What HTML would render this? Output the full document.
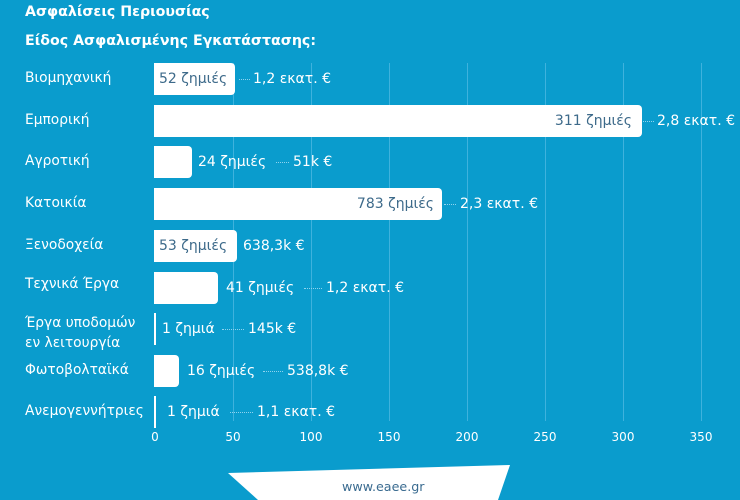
<!DOCTYPE html>
<html><head><meta charset="utf-8"><style>
body{margin:0;width:740px;height:500px;background:#0a9ccd;overflow:hidden;position:relative;font-family:"DejaVu Sans","Liberation Sans",sans-serif;color:#fff}
.a{position:absolute;white-space:nowrap}
.t{font-weight:bold;font-size:14.2px}
.c{font-size:13.8px;left:25px}
.g{position:absolute;top:63px;height:358px;width:1px;background:#3fb2dd}
.bar{position:absolute;height:32px;background:#fff;border-radius:0 4px 4px 0}
.l{font-size:14px;line-height:16px}
.in{color:#3d6a8a}
.d{position:absolute;height:0;border-top:1px dotted #8fd3ee}
.x{font-size:12px;top:430px;transform:translateX(-50%)}
</style></head><body>
<div class="a t" style="left:25px;top:4px">Ασφαλίσεις Περιουσίας</div>
<div class="a t" style="left:25px;top:33px">Είδος Ασφαλισμένης Εγκατάστασης:</div>

<div class="g" style="left:233px"></div><div class="g" style="left:311px"></div><div class="g" style="left:389px"></div><div class="g" style="left:467px"></div><div class="g" style="left:545px"></div><div class="g" style="left:623px"></div><div class="g" style="left:701px"></div>

<div class="a x" style="left:155px">0</div><div class="a x" style="left:233px">50</div><div class="a x" style="left:311px">100</div><div class="a x" style="left:389px">150</div><div class="a x" style="left:467px">200</div><div class="a x" style="left:545px">250</div><div class="a x" style="left:623px">300</div><div class="a x" style="left:701px">350</div>

<div class="a c" style="top:70px">Βιομηχανική</div>
<div class="a c" style="top:112px">Εμπορική</div>
<div class="a c" style="top:153px">Αγροτική</div>
<div class="a c" style="top:195px">Κατοικία</div>
<div class="a c" style="top:237px">Ξενοδοχεία</div>
<div class="a c" style="top:276px">Τεχνικά Έργα</div>
<div class="a c" style="top:313px;line-height:20px">Έργα υποδομών<br>εν λειτουργία</div>
<div class="a c" style="top:362px">Φωτοβολταϊκά</div>
<div class="a c" style="top:403px">Ανεμογεννήτριες</div>

<div class="bar" style="left:154px;width:81px;top:63px"></div>
<div class="bar" style="left:154px;width:488px;top:105px"></div>
<div class="bar" style="left:154px;width:38px;top:146px"></div>
<div class="bar" style="left:154px;width:288px;top:188px"></div>
<div class="bar" style="left:154px;width:83px;top:230px"></div>
<div class="bar" style="left:154px;width:64px;top:272px"></div>
<div class="bar" style="left:154px;width:2px;top:313px;border-radius:0"></div>
<div class="bar" style="left:154px;width:25px;top:355px"></div>
<div class="bar" style="left:154px;width:2px;top:396px;border-radius:0"></div>

<div class="a l in" style="left:159px;top:71px">52 ζημιές</div><div class="d" style="left:239px;width:11px;top:79px"></div><div class="a l" style="left:253px;top:71px">1,2 εκατ. €</div>
<div class="a l in" style="right:108px;top:113px">311 ζημιές</div><div class="d" style="left:643px;width:11px;top:121px"></div><div class="a l" style="left:657px;top:113px">2,8 εκατ. €</div>
<div class="a l" style="left:198px;top:154px">24 ζημιές</div><div class="d" style="left:276px;width:13px;top:162px"></div><div class="a l" style="left:293px;top:154px">51k €</div>
<div class="a l in" style="right:306px;top:196px">783 ζημιές</div><div class="d" style="left:444px;width:12px;top:204px"></div><div class="a l" style="left:460px;top:196px">2,3 εκατ. €</div>
<div class="a l in" style="left:159px;top:238px">53 ζημιές</div><div class="a l" style="left:243px;top:238px">638,3k €</div>
<div class="a l" style="left:226px;top:280px">41 ζημιές</div><div class="d" style="left:304px;width:18px;top:288px"></div><div class="a l" style="left:326px;top:280px">1,2 εκατ. €</div>
<div class="a l" style="left:162px;top:321px">1 ζημιά</div><div class="d" style="left:222px;width:22px;top:329px"></div><div class="a l" style="left:248px;top:321px">145k €</div>
<div class="a l" style="left:187px;top:363px">16 ζημιές</div><div class="d" style="left:263px;width:20px;top:371px"></div><div class="a l" style="left:287px;top:363px">538,8k €</div>
<div class="a l" style="left:167px;top:404px">1 ζημιά</div><div class="d" style="left:230px;width:23px;top:412px"></div><div class="a l" style="left:257px;top:404px">1,1 εκατ. €</div>

<svg class="a" style="left:0;top:0" width="740" height="500"><polygon points="228,473 510,465 498,500 258,500" fill="#fff"/></svg>
<div class="a" style="left:342px;top:479px;font-size:12.7px;color:#3a6b90">www.eaee.gr</div>
</body></html>
